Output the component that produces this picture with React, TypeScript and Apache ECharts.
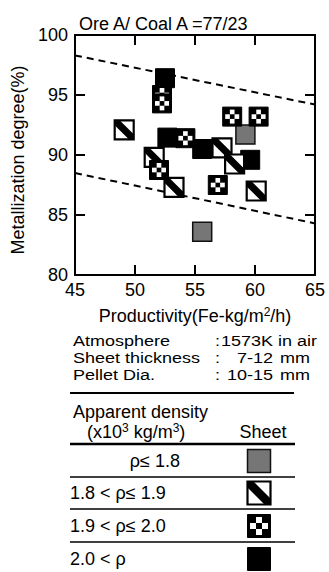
import React, { useEffect, useRef } from "react";
import * as echarts from "echarts";

const FONT = '"Liberation Sans", Arial, Helvetica, sans-serif';

// Axis settings
const X_MIN = 45, X_MAX = 65, X_STEP = 5;
const Y_MIN = 80, Y_MAX = 100, Y_STEP = 5;
const xTickValues = [50, 55, 60];
const yTickValues = [85, 90, 95];

// Data (Productivity, Metallization degree) by apparent density class
const densityLow: number[][] = [ // rho <= 1.8
  [59.2, 91.7],
  [55.6, 83.6],
];
const densityMid1: number[][] = [ // 1.8 < rho <= 1.9
  [49.1, 92.1],
  [51.6, 89.8],
  [53.25, 87.3],
  [57.25, 90.6],
  [58.3, 89.25],
  [60.1, 87.0],
];
const densityMid2: number[][] = [ // 1.9 < rho <= 2.0
  [52.25, 95.0],
  [52.25, 94.3],
  [54.2, 91.4],
  [58.1, 93.2],
  [60.3, 93.2],
  [52.0, 88.75],
  [56.9, 87.5],
];
const densityHigh: number[][] = [ // 2.0 < rho
  [52.5, 96.4],
  [52.7, 91.45],
  [55.6, 90.5],
  [59.6, 89.6],
];

// Dashed envelope lines
const upperBound: number[][] = [[45, 98.3], [65, 94.2]];
const lowerBound: number[][] = [[45, 88.5], [65, 84.3]];

const densityLabels = ["ρ≤ 1.8", "1.8 < ρ≤ 1.9", "1.9 < ρ≤ 2.0", "2.0 < ρ"];
const densityKinds = ["gray", "hatched", "checker", "black"];

const infoLabels = ["Atmosphere", "Sheet thickness", "Pellet Dia."];
const infoValues = ["1573K in air", "7-12", "10-15"];
const infoUnits = ["", "mm", "mm"];

function makeMarker(kind: string, cx: number, cy: number, s: number): any[] {
  const h = s / 2;
  const x0 = cx - h, y0 = cy - h;
  const els: any[] = [];
  if (kind === "gray") {
    els.push({ type: "rect", shape: { x: x0, y: y0, width: s, height: s }, style: { fill: "#767676", stroke: "#111", lineWidth: 1.5 } });
  } else if (kind === "black") {
    els.push({ type: "rect", shape: { x: x0, y: y0, width: s, height: s }, style: { fill: "#000", stroke: "#000", lineWidth: 1 } });
  } else if (kind === "hatched") {
    const w = s * 0.26;
    els.push({ type: "rect", shape: { x: x0, y: y0, width: s, height: s }, style: { fill: "#fff", stroke: "#000", lineWidth: 2.2 } });
    els.push({
      type: "polygon",
      shape: { points: [[x0, y0], [x0 + w, y0], [x0 + s, y0 + s - w], [x0 + s, y0 + s], [x0 + s - w, y0 + s], [x0, y0 + w]] },
      style: { fill: "#000" },
    });
  } else if (kind === "checker") {
    els.push({ type: "rect", shape: { x: x0, y: y0, width: s, height: s }, style: { fill: "#000", stroke: "#000", lineWidth: 1 } });
    const b = 2.5;
    const c = (s - 2 * b) / 3;
    const whites = [[1, 0], [0, 1], [2, 1], [1, 2]];
    whites.forEach(([i, j]) => {
      els.push({ type: "rect", shape: { x: x0 + b + i * c, y: y0 + b + j * c, width: c, height: c }, style: { fill: "#fff" } });
    });
  }
  return els;
}

function markerSeries(name: string, kind: string, data: number[][]) {
  return {
    name,
    type: "custom",
    coordinateSystem: "cartesian2d",
    data,
    z: 5,
    renderItem: (params: any, api: any) => {
      const pt = api.coord([api.value(0), api.value(1)]);
      return { type: "group", children: makeMarker(kind, pt[0], pt[1], 19) };
    },
  };
}

const TICK = 10;
const sup = { fontSize: 12, verticalAlign: "top", lineHeight: 20, fontFamily: FONT, color: "#000" };

const mkLine = () => ({ show: true, onZero: false, lineStyle: { color: "#000", width: 2 } });
const mkTick = () => ({ show: true, inside: true, length: TICK, lineStyle: { color: "#000", width: 2 } });

const GRID = { left: 75, right: 14, top: 35, bottom: 297 };

// frame ticks: data items [x, y, side] where side 0=x tick, 1=y tick
const frameTicks: number[][] = [
  ...xTickValues.map((v) => [v, Y_MIN, 0]),
  ...yTickValues.map((v) => [X_MIN, v, 1]),
];

export default function App() {
  const ref = useRef<HTMLDivElement>(null);
  useEffect(() => {
    if (!ref.current) return;
    const chart = echarts.init(ref.current, undefined, { renderer: "svg" });

    chart.setOption({
      animation: false,
      backgroundColor: "#fff",
      textStyle: { fontFamily: FONT, color: "#000" },
      title: { text: "Ore A/ Coal A =77/23", left: 74, top: 10, textStyle: { fontSize: 18, fontWeight: "normal", color: "#000", fontFamily: FONT } },
      grid: { ...GRID, containLabel: false },
      xAxis: [
        {
          type: "value", min: X_MIN, max: X_MAX, interval: X_STEP, position: "bottom",
          axisLine: mkLine(), axisTick: mkTick(), splitLine: { show: false },
          axisLabel: { fontSize: 18, color: "#000", margin: 6, fontFamily: FONT },
          name: "Productivity(Fe-kg/m{sup|2}/h)", nameLocation: "middle", nameGap: 31,
          nameTextStyle: { fontSize: 18, lineHeight: 20, color: "#000", fontFamily: FONT, rich: { sup } },
        },
        {
          type: "value", min: X_MIN, max: X_MAX, interval: X_STEP, position: "top",
          axisLine: mkLine(), axisTick: mkTick(), splitLine: { show: false }, axisLabel: { show: false },
        },
      ],
      yAxis: [
        {
          type: "value", min: Y_MIN, max: Y_MAX, interval: Y_STEP, position: "left",
          axisLine: mkLine(), axisTick: mkTick(), splitLine: { show: false },
          axisLabel: { fontSize: 18, color: "#000", margin: 7, fontFamily: FONT },
          name: "Metallization degree(%)", nameLocation: "middle", nameRotate: 90, nameGap: 47,
          nameTextStyle: { fontSize: 18, color: "#000", fontFamily: FONT, padding: [0, 10, 0, 0] },
        },
        {
          type: "value", min: Y_MIN, max: Y_MAX, interval: Y_STEP, position: "right",
          axisLine: mkLine(), axisTick: mkTick(), splitLine: { show: false }, axisLabel: { show: false },
        },
      ],
      series: [
        { name: "upper", type: "line", data: upperBound, symbol: "none", silent: true, lineStyle: { color: "#000", width: 2, type: [7, 5] }, z: 2 },
        { name: "lower", type: "line", data: lowerBound, symbol: "none", silent: true, lineStyle: { color: "#000", width: 2, type: [7, 5] }, z: 2 },
        markerSeries(densityLabels[0], "gray", densityLow),
        markerSeries(densityLabels[3], "black", densityHigh),
        markerSeries(densityLabels[1], "hatched", densityMid1),
        markerSeries(densityLabels[2], "checker", densityMid2),
        {
          name: "frame ticks", type: "custom", coordinateSystem: "cartesian2d", z: 6, clip: false,
          data: frameTicks,
          renderItem: (params: any, api: any) => {
            const side = api.value(2);
            if (side === 0) {
              const b = api.coord([api.value(0), Y_MIN]);
              const t = api.coord([api.value(0), Y_MAX]);
              return {
                type: "group", children: [
                  { type: "rect", shape: { x: b[0] - 1, y: b[1] - TICK, width: 2, height: TICK }, style: { fill: "#000" } },
                  { type: "rect", shape: { x: t[0] - 1, y: t[1], width: 2, height: TICK }, style: { fill: "#000" } },
                ],
              };
            }
            const l = api.coord([X_MIN, api.value(1)]);
            const r = api.coord([X_MAX, api.value(1)]);
            return {
              type: "group", children: [
                { type: "rect", shape: { x: l[0], y: l[1] - 1, width: TICK, height: 2 }, style: { fill: "#000" } },
                { type: "rect", shape: { x: r[0] - TICK, y: r[1] - 1, width: TICK, height: 2 }, style: { fill: "#000" } },
              ],
            };
          },
        },
      ],
    });

    // pixel conversion through the chart's own grid scales (fallback: grid layout)
    const W = 329, H = 572;
    const toPx = (x: number, y: number): number[] => {
      let p: any = null;
      try { p = chart.convertToPixel({ gridIndex: 0 }, [x, y]); } catch (e) { p = null; }
      if (!p || !isFinite(p[0]) || !isFinite(p[1])) {
        const pw = W - GRID.left - GRID.right, ph = H - GRID.top - GRID.bottom;
        p = [GRID.left + ((x - X_MIN) / (X_MAX - X_MIN)) * pw, GRID.top + ((Y_MAX - y) / (Y_MAX - Y_MIN)) * ph];
      }
      return p;
    };

    const rowY = [461, 493, 526, 559];
    const graphics: any[] = [];
    const txt = (x: number, y: number, text: string, align = "left", extra: any = {}, sx = 1) => ({
      type: "text", x, y, scaleX: sx,
      style: { text, fill: "#000", fontSize: 18, fontFamily: FONT, align, verticalAlign: "middle", ...extra },
    });
    const tickRect = (x: number, y: number, w: number, h: number) => ({
      type: "rect", z: 100, shape: { x, y, width: w, height: h }, style: { fill: "#000" },
    });
    xTickValues.forEach((v) => {
      const b = toPx(v, Y_MIN);
      const t = toPx(v, Y_MAX);
      graphics.push(tickRect(b[0] - 1, b[1] - TICK, 2, TICK));
      graphics.push(tickRect(t[0] - 1, t[1], 2, TICK));
    });
    yTickValues.forEach((v) => {
      const l = toPx(X_MIN, v);
      const r = toPx(X_MAX, v);
      graphics.push(tickRect(l[0], l[1] - 1, TICK, 2));
      graphics.push(tickRect(r[0] - TICK, r[1] - 1, TICK, 2));
    });
    // info block
    const infoY = [341, 358, 375];
    const info = { fontSize: 15 };
    infoLabels.forEach((t, i) => {
      graphics.push(txt(73, infoY[i], t, "left", info, 1.2));
      graphics.push(txt(215, infoY[i], ":", "left", info, 1.2));
      if (i === 0) {
        graphics.push(txt(221, infoY[i], infoValues[i], "left", info, 1.2));
      } else {
        graphics.push(txt(273, infoY[i], infoValues[i], "right", info, 1.2));
        graphics.push(txt(280, infoY[i], infoUnits[i], "left", info, 1.2));
      }
    });
    // table lines
    graphics.push({ type: "line", shape: { x1: 70, y1: 393, x2: 294, y2: 393 }, style: { stroke: "#000", lineWidth: 2 } });
    graphics.push({ type: "line", shape: { x1: 70, y1: 444, x2: 295, y2: 444 }, style: { stroke: "#000", lineWidth: 2.5 } });
    [477, 509, 542].forEach((y) => {
      graphics.push({ type: "line", shape: { x1: 70, y1: y, x2: 295, y2: y }, style: { stroke: "#000", lineWidth: 1.5 } });
    });
    // header
    graphics.push(txt(73, 412, "Apparent density"));
    graphics.push(txt(87, 432, "(x10{sup|3} kg/m{sup|3})", "left", { lineHeight: 20, rich: { sup } }));
    graphics.push(txt(263, 432, "Sheet", "center"));
    // rows
    densityLabels.forEach((t, i) => {
      const right = i === 0;
      graphics.push(txt(right ? 180 : 70, rowY[i], t, right ? "right" : "left"));
      graphics.push({ type: "group", children: makeMarker(densityKinds[i], 259, rowY[i], 23) });
    });

    chart.setOption({ graphic: graphics });
    return () => chart.dispose();
  }, []);
  return <div ref={ref} style={{ position: "fixed", left: 0, top: 0, width: 329, height: 572, background: "#fff" }} />;
}
